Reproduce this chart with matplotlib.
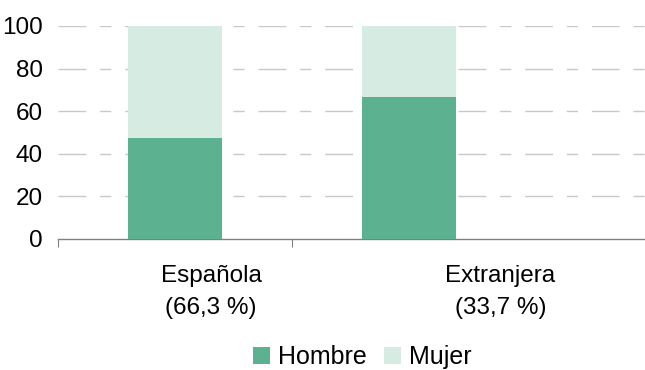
import numpy as np
import matplotlib.pyplot as plt

plt.rcParams['font.family'] = ['Liberation Sans', 'DejaVu Sans']

categorias = ["Española\n(66,3 %)", "Extranjera\n(33,7 %)"]
hombre = [47.6, 66.7]
mujer = [100 - h for h in hombre]
series = ["Hombre", "Mujer"]
colores = ["#5bb190", "#d6ece3"]
yticks = [0, 20, 40, 60, 80, 100]

fs = 17.5

fig = plt.figure(figsize=(6.45, 3.7), dpi=100)
ax = fig.add_axes([58 / 645, 1 - 239 / 370, 1 - 58 / 645, (239 - 26) / 370])

x = np.arange(len(categorias))
ax.bar(x, hombre, width=0.4, color=colores[0], label=series[0], zorder=3)
ax.bar(x, mujer, width=0.4, bottom=hombre, color=colores[1], label=series[1], zorder=3)

ax.set_ylim(0, 100)
ax.set_xlim(-0.5, 2.01)
ax.set_yticks(yticks)
ax.set_yticklabels([str(v) for v in yticks])
for v in yticks[1:]:
    ax.axhline(v, color="#c8c8c8", lw=1, dashes=(20, 10, 8, 10), zorder=1)

for s in ["left", "right", "top"]:
    ax.spines[s].set_visible(False)
ax.spines["bottom"].set_color("#808080")
ax.spines["bottom"].set_linewidth(1)

ax.tick_params(axis="y", length=0, pad=11, labelsize=fs)
ax.set_xticks([-0.5, 0.5])
ax.set_xticklabels(["", ""])
ax.tick_params(axis="x", which="major", length=6, color="#808080", direction="out")
# labels sit to the right of the bars, as in the original
ax.set_xticks(x + np.array([0.154, 0.392]), minor=True)
ax.set_xticklabels(categorias, minor=True)
ax.tick_params(axis="x", which="minor", length=0, pad=19, labelsize=fs)
for lbl in ax.get_xticklabels(minor=True):
    lbl.set_linespacing(1.55)
    lbl.set_horizontalalignment("center")

fig.legend(loc="center", bbox_to_anchor=(362 / 645, 1 - 357 / 370), ncol=2,
           frameon=False, fontsize=18, handlelength=0.7, handleheight=0.7,
           handletextpad=0.29, columnspacing=0.7, borderaxespad=0, borderpad=0)

fig.savefig("out.png", dpi=100)
